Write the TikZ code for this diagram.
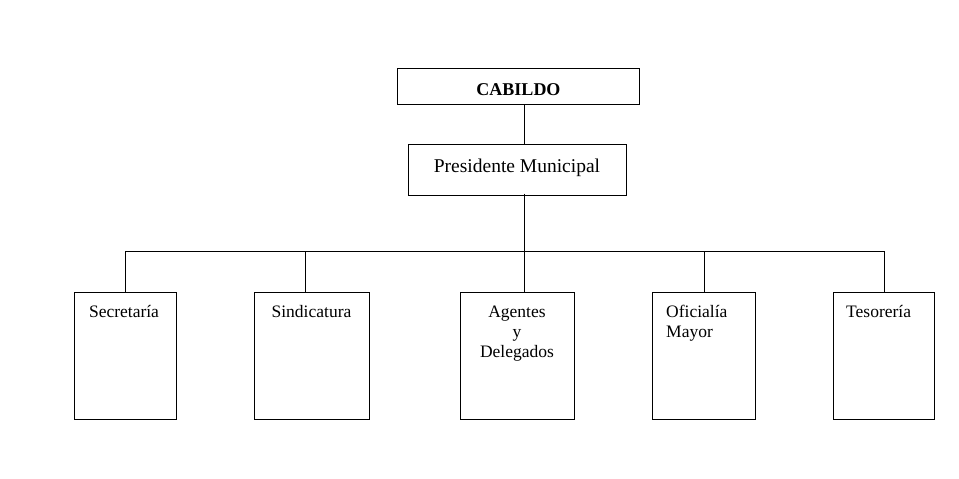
\documentclass[tikz,border=0pt]{standalone}
\usepackage{fontspec}
\setmainfont{Liberation Serif}
\begin{document}
\begin{tikzpicture}[x=1pt,y=-1pt,
  boxstyle/.style={draw,line width=1pt,rectangle,inner sep=0pt},
  lbl/.style={font=\fontsize{17.5}{20}\selectfont,inner sep=0pt},
  conn/.style={line width=1pt}]
\useasboundingbox (0,0) rectangle (959,479);
\fill[white] (0,0) rectangle (959,479);
% boxes
\node[boxstyle,minimum width=242pt,minimum height=36pt] (cab) at (518,86) {};
\node[boxstyle,minimum width=218pt,minimum height=51pt] (pres) at (517,169.5) {};
\node[boxstyle,minimum width=102pt,minimum height=127pt] (sec) at (125,355.5) {};
\node[boxstyle,minimum width=115pt,minimum height=127pt] (sin) at (311.5,355.5) {};
\node[boxstyle,minimum width=114pt,minimum height=127pt] (age) at (517,355.5) {};
\node[boxstyle,minimum width=103pt,minimum height=127pt] (ofi) at (703.5,355.5) {};
\node[boxstyle,minimum width=101pt,minimum height=127pt] (tes) at (883.5,355.5) {};
% texts
\node[inner sep=0pt,anchor=base,font=\fontsize{18}{20}\selectfont\bfseries] (tcab) at (518.5,95) {CABILDO};
\node[inner sep=0pt,anchor=base,font=\fontsize{19.5}{22}\selectfont] (tpres) at (517,172) {Presidente Municipal};
\node[lbl,anchor=base] (tsec) at (124,317) {Secretaría};
\node[lbl,anchor=base] (tsin) at (311.5,317) {Sindicatura};
\node[lbl,anchor=base] (tage1) at (517,317) {Agentes};
\node[lbl,anchor=base] (tage2) at (517,337) {y};
\node[lbl,anchor=base] (tage3) at (517,357) {Delegados};
\node[lbl,anchor=base west] (tofi1) at (666,317) {Oficialía};
\node[lbl,anchor=base west] (tofi2) at (666,337) {Mayor};
\node[lbl,anchor=base west] (ttes) at (846,317) {Tesorería};
% bus coordinates
\coordinate (bl) at (125,251);
\coordinate (br) at (884,251);
\coordinate (b1) at (125,251);
\coordinate (b2) at (305,251);
\coordinate (b3) at (524,251);
\coordinate (b4) at (704,251);
\coordinate (b5) at (884,251);
% connectors
\draw[conn] (cab.south -| b3) -- (pres.north -| b3);
\draw[conn] ([yshift=2pt]pres.south -| b3) -- (b3);
\draw[conn] (bl) -- (br);
\draw[conn] (b1) -- (b1 |- sec.north);
\draw[conn] (b2) -- (b2 |- sin.north);
\draw[conn] (b3) -- (b3 |- age.north);
\draw[conn] (b4) -- (b4 |- ofi.north);
\draw[conn] (b5) -- (b5 |- tes.north);
\end{tikzpicture}
\end{document}
